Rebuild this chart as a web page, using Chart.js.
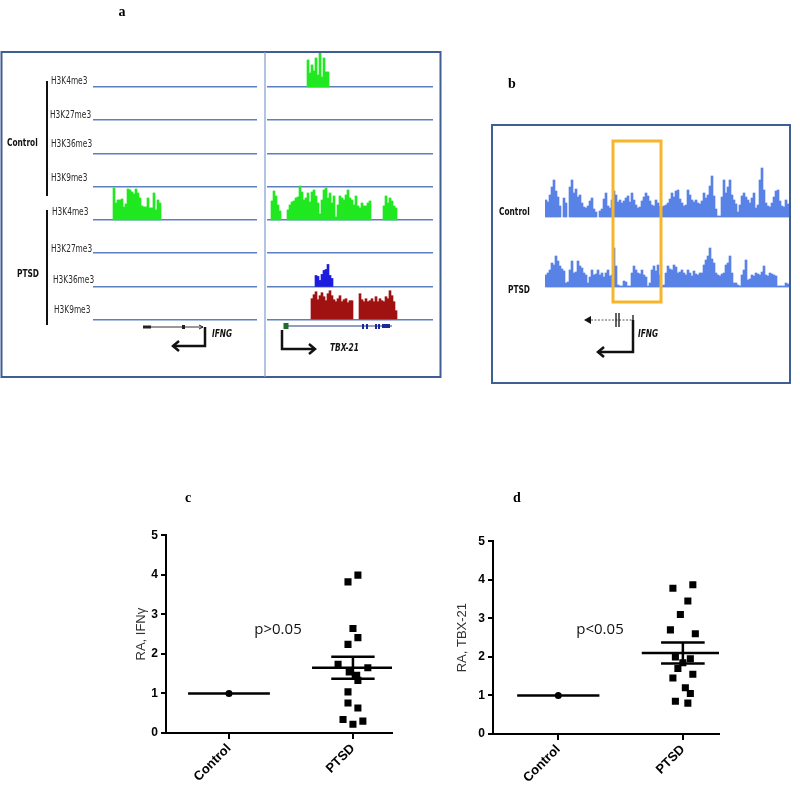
<!DOCTYPE html>
<html>
<head>
<meta charset="utf-8">
<script src="https://cdn.jsdelivr.net/npm/chart.js@4.4.1/dist/chart.umd.min.js"></script>
<style>
  body { margin: 0; background: #fff; }
  #page { position: relative; width: 800px; height: 790px; overflow: hidden; font-family: "Liberation Sans", Arial, sans-serif; }
  .box { position: absolute; }
  .lbl { position: absolute; white-space: nowrap; line-height: 1; transform: translateY(-50%) scaleX(0.75); transform-origin: left center;
         font-family: "Liberation Sans Narrow", "DejaVu Sans Condensed", "Liberation Sans", sans-serif; font-size: 11px; color: #2a2a2a; }
  .grp { font-weight: bold; color: #111; }
  .gene { font-style: italic; font-weight: bold; color: #111; }
  .letter { position: absolute; font-family: "Liberation Serif", serif; font-weight: bold; font-size: 14px; transform: translate(-50%, -50%); }
  .pval { position: absolute; font-family: "Open Sans", sans-serif; font-size: 15px; color: #111; transform: translate(-50%, -50%); }
  svg { position: absolute; left: 0; top: 0; pointer-events: none; }
</style>
</head>
<body>
<div id="page">
  <!-- panel a tracks -->
  <div class="box" style="left:93px;top:52px;width:164px;height:271px"><canvas id="aLeft"></canvas></div>
  <div class="box" style="left:267px;top:52px;width:166px;height:271px"><canvas id="aRight"></canvas></div>
  <!-- panel b tracks -->
  <div class="box" style="left:545px;top:160px;width:246px;height:129px"><canvas id="bTracks"></canvas></div>
  <!-- panels c, d -->
  <div class="box" style="left:100px;top:525px;width:300px;height:265px"><canvas id="cPlot"></canvas></div>
  <div class="box" style="left:427px;top:531px;width:300px;height:259px"><canvas id="dPlot"></canvas></div>

  <svg width="800" height="790">
    <!-- panel a frame -->
    <rect x="1.5" y="52" width="439" height="325" fill="none" stroke="#3f5f94" stroke-width="2"/>
    <line x1="265" y1="52" x2="265" y2="377" stroke="#7f9bd0" stroke-width="1.2"/>
    <line x1="47" y1="81" x2="47" y2="196" stroke="#111" stroke-width="2"/>
    <line x1="47" y1="210" x2="47" y2="325" stroke="#111" stroke-width="2"/>
    <!-- IFNG gene, panel a -->
    <line x1="143" y1="327" x2="203" y2="327" stroke="#333" stroke-width="1"/>
    <rect x="143" y="325.5" width="8" height="3" fill="#222"/>
    <rect x="182" y="325" width="3" height="4" fill="#222"/>
    <polyline points="199,325 203,327 199,329" fill="none" stroke="#222" stroke-width="1"/>
    <path d="M205,327 V346 H173" fill="none" stroke="#111" stroke-width="2.5"/>
    <polyline points="179,341 173,346 179,351" fill="none" stroke="#111" stroke-width="2.5"/>
    <!-- TBX-21 gene, panel a -->
    <line x1="284" y1="326" x2="392" y2="326" stroke="#2a3a8a" stroke-width="1"/>
    <rect x="283.5" y="323" width="5" height="6" fill="#1f6b2a"/>
    <rect x="362" y="324" width="2" height="5" fill="#1a2a9a"/>
    <rect x="366" y="324" width="2" height="5" fill="#1a2a9a"/>
    <rect x="375" y="324" width="2" height="5" fill="#1a2a9a"/>
    <rect x="378" y="324" width="2" height="5" fill="#1a2a9a"/>
    <rect x="382" y="324" width="8" height="4" fill="#1a2a9a"/>
    <path d="M282,330 V349 H314" fill="none" stroke="#111" stroke-width="2.5"/>
    <polyline points="309,344 315,349 309,354" fill="none" stroke="#111" stroke-width="2.5"/>

    <!-- panel b frame -->
    <rect x="492" y="125" width="298" height="258" fill="none" stroke="#3f5f94" stroke-width="2"/>
    <rect x="613" y="141" width="48" height="161" fill="none" stroke="#f7b52c" stroke-width="3"/>
    <!-- IFNG gene, panel b -->
    <polygon points="584,320 591,316 591,324" fill="#111"/>
    <line x1="591" y1="320" x2="633" y2="320" stroke="#555" stroke-width="1" stroke-dasharray="2 1.5"/>
    <line x1="616" y1="313" x2="616" y2="327" stroke="#111" stroke-width="1.3"/>
    <line x1="619" y1="313" x2="619" y2="327" stroke="#111" stroke-width="1.3"/>
    <line x1="633" y1="315" x2="633" y2="325" stroke="#111" stroke-width="1.3"/>
    <path d="M633,320 V352 H598" fill="none" stroke="#111" stroke-width="2.5"/>
    <polyline points="604,347 598,352 604,357" fill="none" stroke="#111" stroke-width="2.5"/>
  </svg>

  <!-- panel a labels -->
  <div class="lbl" style="left:51px;top:80px">H3K4me3</div>
  <div class="lbl" style="left:50px;top:114px">H3K27me3</div>
  <div class="lbl" style="left:51px;top:143px">H3K36me3</div>
  <div class="lbl" style="left:51px;top:177px">H3K9me3</div>
  <div class="lbl" style="left:52px;top:211px">H3K4me3</div>
  <div class="lbl" style="left:51px;top:248px">H3K27me3</div>
  <div class="lbl" style="left:53px;top:279px">H3K36me3</div>
  <div class="lbl" style="left:54px;top:309px">H3K9me3</div>
  <div class="lbl grp" style="left:7px;top:142px">Control</div>
  <div class="lbl grp" style="left:17px;top:273px">PTSD</div>
  <div class="lbl gene" style="left:212px;top:333px">IFNG</div>
  <div class="lbl gene" style="left:330px;top:347px">TBX-21</div>
  <!-- panel b labels -->
  <div class="lbl grp" style="left:499px;top:211px">Control</div>
  <div class="lbl grp" style="left:508px;top:289px">PTSD</div>
  <div class="lbl gene" style="left:638px;top:333px">IFNG</div>

  <div class="letter" style="left:122px;top:12px">a</div>
  <div class="letter" style="left:512px;top:84px">b</div>
  <div class="letter" style="left:188px;top:498px">c</div>
  <div class="letter" style="left:517px;top:498px">d</div>

  <div class="pval" style="left:278px;top:628px">p&gt;0.05</div>
  <div class="pval" style="left:600px;top:628px">p&lt;0.05</div>
</div>

<script>
// ---- panel a: ChIP-seq tracks (bar heights in px, 2px bins) ----
const trackNames = ['H3K4me3', 'H3K27me3', 'H3K36me3', 'H3K9me3'];
const leftPtsdK4Start = 10;
const leftPtsdK4 = [32, 17, 20, 20, 21, 13, 16, 31, 30, 28, 26, 31, 27, 22, 14, 13, 13, 22, 12, 12, 27, 10, 20, 17];
const rightCtrlK4Start = 20;
const rightCtrlK4 = [27, 14, 22, 16, 29, 12, 34, 10, 29, 15, 15];
const rightPtsdK4Start = 2;
const rightPtsdK4 = [19, 29, 24, 15, 9, 0, 0, 0, 10, 15, 18, 19, 22, 23, 34, 28, 20, 22, 27, 18, 28, 30, 24, 17, 6,
  20, 30, 32, 22, 27, 17, 24, 3, 15, 24, 22, 20, 25, 30, 22, 20, 15, 24, 14, 12, 17, 14, 14, 17, 19,
  0, 0, 0, 0, 0, 0, 14, 24, 17, 22, 19, 14, 12];
const rightPtsdK36Start = 24;
const rightPtsdK36 = [11, 10, 6, 12, 16, 17, 22, 11, 8];
const rightPtsdK9Start = 22;
const rightPtsdK9 = [21, 25, 28, 20, 24, 27, 23, 19, 26, 29, 24, 20, 18, 21, 24, 18, 20, 21, 17, 19, 19, 0, 0, 0,
  26, 20, 18, 21, 18, 19, 21, 18, 23, 18, 21, 19, 18, 23, 21, 29, 24, 18, 9];

// ---- panel b: IFNG locus coverage ----
const ctrlCoverage = [17, 15, 22, 30, 37, 26, 20, 11, 0, 19, 14, 0, 30, 37, 24, 28, 20, 22, 14, 10,
  9, 11, 16, 19, 8, 5, 0, 6, 8, 18, 24, 11, 9, 17, 26, 22, 15, 17, 14, 16,
  19, 21, 15, 24, 17, 12, 9, 10, 16, 20, 24, 21, 16, 12, 11, 17, 14, 11, 10, 11,
  12, 14, 18, 24, 20, 26, 27, 18, 14, 11, 12, 27, 22, 17, 15, 17, 14, 13, 16, 24,
  19, 22, 31, 41, 21, 8, 1, 1, 20, 37, 24, 30, 37, 22, 17, 13, 5, 12, 21, 24,
  20, 17, 14, 19, 24, 9, 12, 37, 49, 27, 14, 11, 10, 14, 20, 26, 27, 16, 11, 10,
  17, 13, 11];
const ptsdCoverage = [12, 14, 17, 24, 22, 31, 26, 21, 18, 16, 4, 5, 17, 26, 14, 15, 26, 21, 19, 14,
  12, 4, 10, 17, 12, 13, 17, 12, 14, 10, 14, 17, 11, 12, 39, 21, 2, 1, 1, 6,
  5, 1, 1, 14, 21, 17, 14, 13, 17, 12, 10, 1, 4, 17, 21, 16, 22, 12, 1, 2,
  14, 21, 18, 17, 22, 20, 14, 15, 17, 14, 12, 17, 14, 11, 16, 13, 12, 14, 14, 22,
  27, 31, 39, 28, 24, 14, 12, 11, 13, 14, 22, 24, 31, 14, 4, 4, 2, 1, 12, 17,
  27, 7, 8, 12, 11, 14, 13, 12, 15, 21, 12, 11, 14, 13, 12, 11, 1, 1, 1, 1,
  4, 3, 0];

// ---- panels c, d: relative abundance ----
const groups = ['Control', 'PTSD'];
const yTicks = [0, 1, 2, 3, 4, 5];
const ifngControl = [1.0];
const ifngPtsd = [3.82, 3.99, 2.64, 2.41, 2.24, 1.74, 1.65, 1.54, 1.46, 1.33, 1.04, 0.76, 0.63, 0.34, 0.22, 0.30];
const ifngJitter = [-0.04, 0.04, 0, 0.04, -0.04, -0.12, 0.12, -0.03, 0.03, 0.04, -0.04, -0.04, 0.04, -0.08, 0, 0.08];
const ifngMean = [1.0, 1.65];
const ifngSem = [0, 0.28];
const tbxControl = [1.0];
const tbxPtsd = [3.78, 3.87, 3.45, 3.1, 2.7, 2.6, 2.0, 1.95, 1.85, 1.7, 1.55, 1.45, 1.2, 1.05, 0.85, 0.8];
const tbxJitter = [-0.08, 0.08, 0.04, -0.02, -0.1, 0.1, -0.06, 0.06, 0, -0.04, 0.08, -0.08, 0.02, 0.06, -0.06, 0.04];
const tbxMean = [1.0, 2.1];
const tbxSem = [0, 0.27];

const GREEN = '#21e821', BLUE = '#1c1ce0', RED = '#a01212', IGV = '#5a82e6';
const TRACK_PX = 33.3;

function trackData(bins, start, values, base, unit) {
  return Array.from({ length: bins }, (_, i) => {
    const v = values[i - start];
    return v ? [base, base + v / unit] : null;
  });
}

function barSet(data, color) {
  return { data, backgroundColor: color, borderWidth: 0, barPercentage: 1, categoryPercentage: 1, grouped: false };
}

function trackChart(id, bins, sets, yScale) {
  new Chart(document.getElementById(id), {
    type: 'bar',
    data: { labels: Array.from({ length: bins }, (_, i) => i), datasets: sets },
    options: {
      responsive: true, maintainAspectRatio: false, animation: false,
      layout: { padding: 0 },
      plugins: { legend: { display: false }, tooltip: { enabled: false } },
      scales: { x: { display: false }, y: yScale }
    }
  });
}

// baselines for the 8 tracks (0 = bottom PTSD H3K9me3 ... 7 = top Control H3K4me3)
const trackAxis = {
  min: -0.1, max: 8.05,
  afterBuildTicks: s => { s.ticks = [0, 1, 2, 3, 4, 5, 6, 7].map(v => ({ value: v })); },
  ticks: { display: false },
  grid: { color: '#5d7fc2', lineWidth: 1.5, drawTicks: false },
  border: { display: false }
};

trackChart('aLeft', 82, [
  barSet(trackData(82, leftPtsdK4Start, leftPtsdK4, 3, TRACK_PX), GREEN)
], trackAxis);

trackChart('aRight', 83, [
  barSet(trackData(83, rightCtrlK4Start, rightCtrlK4, 7, TRACK_PX), GREEN),
  barSet(trackData(83, rightPtsdK4Start, rightPtsdK4, 3, TRACK_PX), GREEN),
  barSet(trackData(83, rightPtsdK36Start, rightPtsdK36, 1, TRACK_PX), BLUE),
  barSet(trackData(83, rightPtsdK9Start, rightPtsdK9, 0, TRACK_PX), RED)
], trackAxis);

trackChart('bTracks', 123, [
  barSet(trackData(123, 0, ctrlCoverage, 70, 1), IGV),
  barSet(trackData(123, 0, ptsdCoverage, 0, 1), IGV)
], { display: false, min: -2, max: 127 });

// ---- dot plots ----
function seg(x1, y1, x2, y2) {
  return { data: [{ x: x1, y: y1 }, { x: x2, y: y2 }], showLine: true, borderColor: '#000', borderWidth: 2.5, pointRadius: 0 };
}

function dotPlot(id, ctrl, ptsd, jitter, mean, sem, yTitle, o) {
  const up = mean[1] + sem[1], lo = mean[1] - sem[1];
  const boldTick = { family: 'Liberation Sans', weight: 'bold', size: 12 };
  new Chart(document.getElementById(id), {
    type: 'scatter',
    data: {
      datasets: [
        seg(-0.33, mean[0], 0.33, mean[0]),
        seg(0.67, mean[1], 1.33, mean[1]),
        seg(0.825, up, 1.175, up),
        seg(0.825, lo, 1.175, lo),
        seg(1, lo, 1, up),
        { data: ctrl.map(v => ({ x: 0, y: v })), pointStyle: 'circle', pointRadius: 3.5, backgroundColor: '#000', borderWidth: 0 },
        { data: ptsd.map((v, i) => ({ x: 1 + jitter[i], y: v })), pointStyle: 'rect', pointRadius: 5, backgroundColor: '#000', borderWidth: 0 }
      ]
    },
    options: {
      responsive: true, maintainAspectRatio: false, animation: false,
      layout: { padding: { top: 10, right: 8, left: 0, bottom: 0 } },
      plugins: { legend: { display: false }, tooltip: { enabled: false } },
      scales: {
        x: {
          type: 'linear', min: o.xMin, max: o.xMax,
          afterBuildTicks: s => { s.ticks = groups.map((g, i) => ({ value: i })); },
          afterFit: s => { s.height = o.xHeight; },
          ticks: { callback: v => groups[v], minRotation: 45, maxRotation: 45,
                   font: { family: 'Liberation Sans', weight: 'bold', size: 13 }, color: '#000', padding: 2 },
          grid: { drawOnChartArea: false, color: '#000', lineWidth: 2, tickLength: 6 },
          border: { color: '#000', width: 2 }
        },
        y: {
          min: 0, max: 5,
          afterBuildTicks: s => { s.ticks = yTicks.map(v => ({ value: v })); },
          afterFit: s => { s.width = 66; },
          ticks: { font: boldTick, color: '#000', padding: 3 },
          grid: { drawOnChartArea: false, color: '#000', lineWidth: 2, tickLength: 5 },
          border: { color: '#000', width: 2 },
          title: { display: true, text: yTitle, color: '#333', font: { family: 'Liberation Sans', size: 13 }, padding: { top: o.titlePad, bottom: 0 } }
        }
      }
    }
  });
}

dotPlot('cPlot', ifngControl, ifngPtsd, ifngJitter, ifngMean, ifngSem, 'RA, IFNγ',
  { xMin: -0.508, xMax: 1.315, xHeight: 57, titlePad: 34 });
dotPlot('dPlot', tbxControl, tbxPtsd, tbxJitter, tbxMean, tbxSem, 'RA, TBX-21',
  { xMin: -0.524, xMax: 1.29, xHeight: 56, titlePad: 28 });
</script>
</body>
</html>
